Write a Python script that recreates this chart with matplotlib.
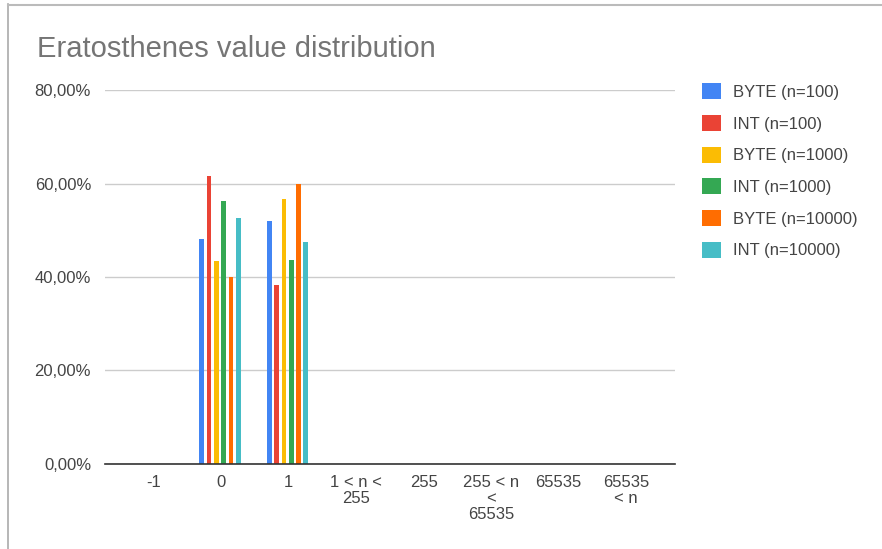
import numpy as np
import matplotlib.pyplot as plt
from matplotlib.lines import Line2D

plt.rcParams['font.family'] = ['Liberation Sans', 'DejaVu Sans']

# categories and series (share of values per bucket)
categories = ['-1', '0', '1', '1 < n <\n255', '255', '255 < n\n<\n65535', '65535', '65535\n< n']
series_names = ['BYTE (n=100)', 'INT (n=100)', 'BYTE (n=1000)',
                'INT (n=1000)', 'BYTE (n=10000)', 'INT (n=10000)']
byte_100 = [0, 0.481, 0.519, 0, 0, 0, 0, 0]
int_100 = [0, 0.617, 0.383, 0, 0, 0, 0, 0]
byte_1000 = [0, 0.434, 0.566, 0, 0, 0, 0, 0]
int_1000 = [0, 0.563, 0.437, 0, 0, 0, 0, 0]
byte_10000 = [0, 0.400, 0.600, 0, 0, 0, 0, 0]
int_10000 = [0, 0.526, 0.474, 0, 0, 0, 0, 0]
series = [byte_100, int_100, byte_1000, int_1000, byte_10000, int_10000]
colors = ['#4285F4', '#EA4335', '#FBBC04', '#34A853', '#FF6D01', '#46BDC6']

fig = plt.figure(figsize=(8.82, 5.49), dpi=100)
ax = fig.add_axes([0.119, 0.155, 0.646, 0.681])

x = np.arange(len(categories))
pitch = 0.108
for i, (vals, c, name) in enumerate(zip(series, colors, series_names)):
    ax.bar(x + (i - 2.5) * pitch - 0.015, vals, width=0.07, color=c, label=name, zorder=3)

ax.set_xlim(-0.72, 7.72)
ax.set_ylim(0, 0.8)
ax.set_yticks([0, 0.2, 0.4, 0.6, 0.8])
ax.set_yticklabels(['0,00%', '20,00%', '40,00%', '60,00%', '80,00%'])
ax.set_xticks(x)
ax.set_xticklabels(categories, linespacing=1.1)
ax.tick_params(length=0, labelsize=12, colors='#444444')
ax.tick_params(axis='y', pad=10)
ax.tick_params(axis='x', pad=8)
ax.grid(axis='y', color='#cccccc', linewidth=1, zorder=0)
for s in ['top', 'right', 'left']:
    ax.spines[s].set_visible(False)
ax.spines['bottom'].set_color('#333333')
ax.spines['bottom'].set_linewidth(1.2)
ax.spines['bottom'].set_zorder(4)

fig.text(0.042, 0.91, 'Eratosthenes value distribution', fontsize=21,
         color='#757575', va='center', ha='left')

leg = ax.legend(loc='upper left', bbox_to_anchor=(1.022, 1.058), frameon=False,
                fontsize=12, handlelength=1.1, handleheight=1.1,
                labelspacing=0.9, handletextpad=0.75)
for t in leg.get_texts():
    t.set_color('#444444')

# sheet border lines around the chart
fig.add_artist(Line2D([0.009, 0.009], [0, 0.993], color='#aaaaaa', linewidth=1.2))
fig.add_artist(Line2D([0.009, 1], [0.991, 0.991], color='#bbbbbb', linewidth=1.5))

fig.savefig('out.png', dpi=100, facecolor='white')
